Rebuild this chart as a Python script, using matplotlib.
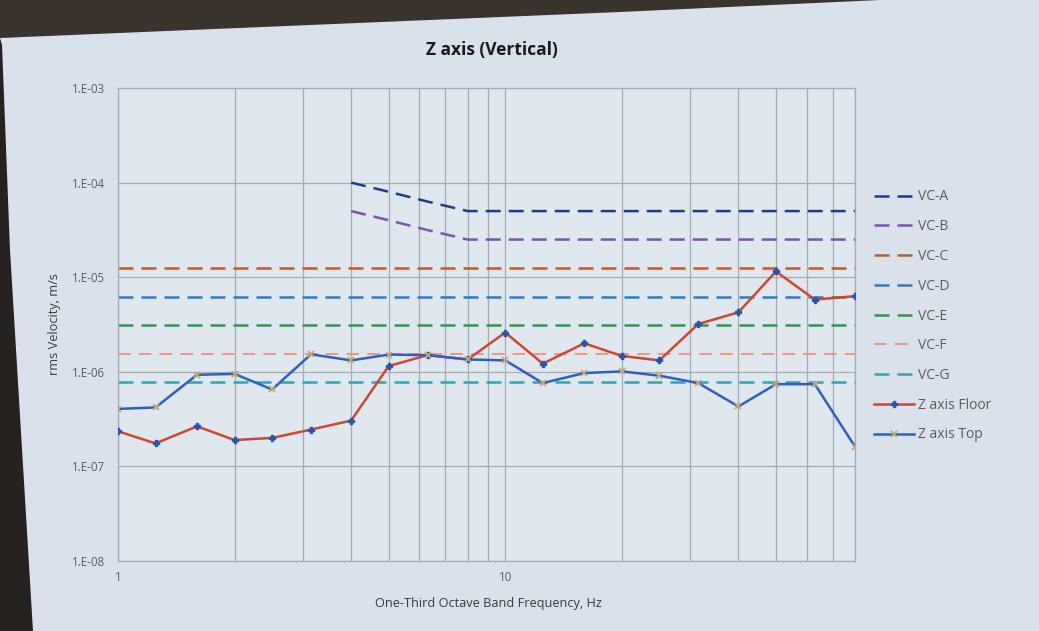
import matplotlib
matplotlib.use('Agg')
import matplotlib.pyplot as plt
import numpy as np
from matplotlib.patches import Polygon
from matplotlib.ticker import FixedLocator, FixedFormatter, NullFormatter, NullLocator

# ---------------- data ----------------
freq = [1, 1.25, 1.6, 2, 2.5, 3.15, 4, 5, 6.3, 8, 10, 12.5, 16, 20, 25, 31.5, 40, 50, 63, 80]

floor = [2.35e-7, 1.75e-7, 2.65e-7, 1.9e-7, 2.0e-7, 2.45e-7, 3.05e-7, 1.15e-6, 1.5e-6, 1.35e-6,
         2.6e-6, 1.22e-6, 2.0e-6, 1.47e-6, 1.32e-6, 3.2e-6, 4.25e-6, 1.15e-5, 5.8e-6, 6.3e-6]
top = [4.05e-7, 4.2e-7, 9.3e-7, 9.5e-7, 6.5e-7, 1.53e-6, 1.32e-6, 1.52e-6, 1.5e-6, 1.35e-6,
       1.32e-6, 7.6e-7, 9.7e-7, 1.01e-6, 9.1e-7, 7.6e-7, 4.3e-7, 7.4e-7, 7.4e-7, 1.62e-7]

freq_ab = [4, 5, 6.3, 8, 10, 12.5, 16, 20, 25, 31.5, 40, 50, 63, 80]
vc_a = [1.0e-4, 8.0e-5, 6.3e-5, 5.0e-5, 5.0e-5, 5.0e-5, 5.0e-5, 5.0e-5, 5.0e-5, 5.0e-5, 5.0e-5, 5.0e-5, 5.0e-5, 5.0e-5]
vc_b = [5.0e-5, 4.0e-5, 3.15e-5, 2.5e-5, 2.5e-5, 2.5e-5, 2.5e-5, 2.5e-5, 2.5e-5, 2.5e-5, 2.5e-5, 2.5e-5, 2.5e-5, 2.5e-5]
vc_levels = [1.25e-5, 6.25e-6, 3.12e-6, 1.56e-6, 7.8e-7]   # VC-C .. VC-G
vc_names = ['VC-A', 'VC-B', 'VC-C', 'VC-D', 'VC-E', 'VC-F', 'VC-G']
series_names = ['Z axis Floor', 'Z axis Top']

x_major = [1, 10]
x_major_labels = ['1', '10']
x_minor = [2, 3, 4, 5, 6, 7, 8, 9, 20, 30, 40, 50, 60, 70, 80]
y_ticks = [1e-8, 1e-7, 1e-6, 1e-5, 1e-4, 1e-3]
y_labels = ['1.E-08', '1.E-07', '1.E-06', '1.E-05', '1.E-04', '1.E-03']

title = 'Z axis (Vertical)'
xlabel = 'One-Third Octave Band Frequency, Hz'
ylabel = 'rms Velocity, m/s'

# ---------------- style ----------------
plt.rcParams['font.family'] = ['Open Sans', 'DejaVu Sans']
W, H = 1039, 631
fig = plt.figure(figsize=(W / 100, H / 100), dpi=100, facecolor='#d9e2ea')

def fp(x, y):
    return (x / W, 1 - y / H)

# photo frame (dark bezel)
fig.add_artist(Polygon([fp(0, 0), fp(880, 0), fp(620, 12), fp(0, 38)], closed=True,
                       transform=fig.transFigure, facecolor='#3a332e', edgecolor='none', zorder=0))
fig.add_artist(Polygon([fp(0, 38), fp(2, 45), fp(10, 250), fp(33, 631), fp(0, 631)], closed=True,
                       transform=fig.transFigure, facecolor='#26221f', edgecolor='none', zorder=0))

ax = fig.add_axes([118 / W, 1 - 561 / H, 737 / W, 473 / H])
ax.set_facecolor('#e0e8ef')
ax.set_xscale('log')
ax.set_yscale('log')

vc_colors = ['#1f3c88', '#7b52b5', '#c25a28', '#2e7bbf', '#2a9a4a', '#e8917e', '#25a9b8']
vc_lw = [1.8, 1.8, 1.8, 1.8, 1.8, 1.3, 1.8]
handles = []
h, = ax.plot(freq_ab, vc_a, color=vc_colors[0], lw=vc_lw[0], dashes=(6, 3.2), label=vc_names[0])
handles.append(h)
h, = ax.plot(freq_ab, vc_b, color=vc_colors[1], lw=vc_lw[1], dashes=(6, 3.2), label=vc_names[1])
handles.append(h)
for i, lvl in enumerate(vc_levels):
    h, = ax.plot(freq, np.full(len(freq), lvl), color=vc_colors[i + 2], lw=vc_lw[i + 2],
                 dashes=(6, 3.2) if vc_lw[i + 2] > 1.5 else (7, 4.5), label=vc_names[i + 2])
    handles.append(h)

h, = ax.plot(freq, floor, color='#d2452d', lw=1.8, marker='P', ms=4.5, mfc='#2457b5', mec='#2457b5',
             label=series_names[0], zorder=4)
handles.append(h)
h, = ax.plot(freq, top, color='#2d5fc6', lw=1.8, marker='x', ms=5, mew=1.3, mec='#c9a96a',
             label=series_names[1], zorder=5)
handles.append(h)

ax.set_xlim(1, 80)
ax.set_ylim(1e-8, 1e-3)

ax.xaxis.set_major_locator(FixedLocator(x_major))
ax.xaxis.set_major_formatter(FixedFormatter(x_major_labels))
ax.xaxis.set_minor_locator(FixedLocator(x_minor))
ax.xaxis.set_minor_formatter(NullFormatter())
ax.yaxis.set_major_locator(FixedLocator(y_ticks))
ax.yaxis.set_major_formatter(FixedFormatter(y_labels))
ax.yaxis.set_minor_locator(NullLocator())

grid_c = '#a4abb3'
ax.grid(which='both', axis='x', color=grid_c, lw=0.9)
ax.grid(which='major', axis='y', color=grid_c, lw=0.9)
ax.set_axisbelow(True)
for s in ax.spines.values():
    s.set_color(grid_c)
    s.set_linewidth(0.9)

ax.tick_params(axis='both', which='both', length=0, labelsize=8.3, labelcolor='#5c5c5c')
ax.tick_params(axis='y', pad=9.5)
ax.tick_params(axis='x', pad=7)

ax.set_xlabel(xlabel, fontsize=9.2, color='#3a3a3a')
ax.xaxis.set_label_coords(0.503, -0.076)
ax.set_ylabel(ylabel, fontsize=9.2, color='#3a3a3a')
ax.yaxis.set_label_coords(-0.078, 0.5)

fig.text(492 / W, 1 - 50 / H, title, ha='center', va='center', fontsize=12.5,
         fontweight='bold', color='#1a1a1a')

# ---------------- legend ----------------
fs = 10
fs_px = fs * 100 / 72
target_first, target_step = 197.0, 29.75
labelspacing = 1.0
anchor_y = 190.0

def make_legend(ls, ay):
    return ax.legend(handles=handles, loc='upper left', bbox_to_anchor=fp(874, ay),
                     bbox_transform=fig.transFigure, frameon=False, borderpad=0, borderaxespad=0,
                     fontsize=fs, handlelength=2.9, handletextpad=0.3, labelspacing=ls,
                     labelcolor='#5c5c5c')

leg = make_legend(labelspacing, anchor_y)
for _ in range(3):
    fig.canvas.draw()
    r = fig.canvas.get_renderer()
    cents = [H - 0.5 * (t.get_window_extent(r).y0 + t.get_window_extent(r).y1) for t in leg.get_texts()]
    step = (cents[-1] - cents[0]) / (len(cents) - 1)
    labelspacing += (target_step - step) / fs_px
    anchor_y += target_first - cents[0]
    leg.remove()
    leg = make_legend(labelspacing, anchor_y)

fig.savefig('out.png', dpi=100, facecolor=fig.get_facecolor())
